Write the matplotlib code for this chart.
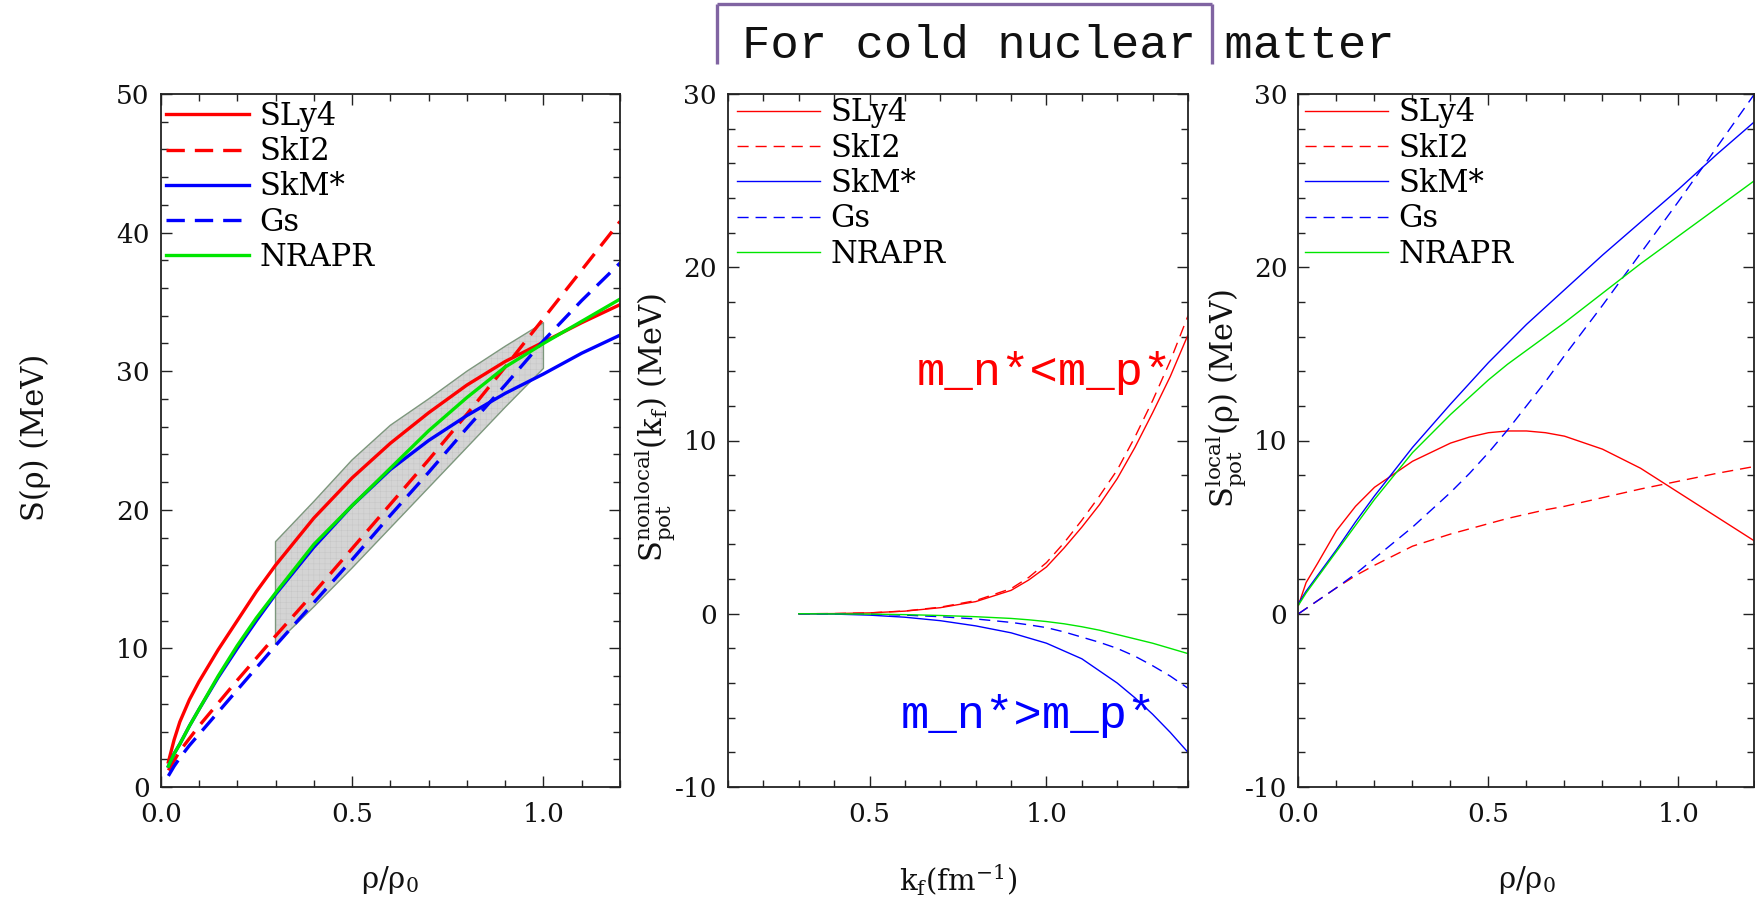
import matplotlib
matplotlib.use("Agg")
import matplotlib.pyplot as plt
from matplotlib.lines import Line2D
from matplotlib.ticker import MultipleLocator, FormatStrFormatter

plt.rcParams['font.family'] = ['DejaVu Serif']
plt.rcParams['mathtext.fontset'] = 'dejavuserif'
plt.rcParams['axes.unicode_minus'] = False
plt.rcParams['hatch.linewidth'] = 0.3

names = ['SLy4', 'SkI2', 'SkM*', 'Gs', 'NRAPR']
colors = ['#ff0000', '#ff0000', '#0000ff', '#0000ff', '#00e600']
dashed = [False, True, False, True, False]

# symmetry energy S(rho)
rho_tot = [0.02, 0.035, 0.05, 0.075, 0.1, 0.15, 0.2, 0.25, 0.3, 0.4, 0.5, 0.6, 0.7, 0.8, 0.9, 1.0, 1.1, 1.2]
s_tot = {
    'SLy4':  [1.8, 3.4, 4.7, 6.3, 7.6, 9.9, 12.0, 14.1, 16.0, 19.4, 22.3, 24.8, 27.0, 29.0, 30.7, 32.1, 33.5, 34.8],
    'SkI2':  [1.2, 1.9, 2.6, 3.5, 4.4, 6.05, 7.7, 9.3, 10.9, 14.0, 17.2, 20.4, 23.6, 26.9, 30.3, 33.8, 37.3, 40.8],
    'SkM*':  [1.5, 2.4, 3.1, 4.4, 5.6, 7.9, 10.0, 12.0, 13.9, 17.3, 20.3, 22.9, 25.0, 26.8, 28.4, 29.8, 31.3, 32.6],
    'Gs':    [0.8, 1.5, 2.1, 3.0, 3.8, 5.4, 7.0, 8.6, 10.2, 13.3, 16.4, 19.6, 22.7, 25.9, 29.0, 32.2, 35.1, 37.8],
    'NRAPR': [1.5, 2.4, 3.1, 4.4, 5.6, 8.0, 10.2, 12.2, 14.0, 17.5, 20.3, 23.0, 25.7, 28.1, 30.3, 32.0, 33.6, 35.2],
}
band_rho = [0.3, 0.4, 0.5, 0.6, 0.7, 0.8, 0.9, 1.0]
band_hi = [17.7, 20.6, 23.6, 26.1, 28.0, 30.0, 31.8, 33.5]
band_lo = [10.3, 13.0, 15.8, 18.7, 21.6, 24.5, 27.4, 30.2]

# nonlocal potential part vs k_f
kf = [0.3, 0.4, 0.5, 0.6, 0.7, 0.8, 0.9, 0.95, 1.0, 1.05, 1.1, 1.15, 1.2, 1.25, 1.3, 1.35, 1.4]
s_nonlocal = {
    'SLy4':  [0, 0.01, 0.05, 0.15, 0.35, 0.7, 1.35, 1.95, 2.7, 3.8, 5.0, 6.3, 7.8, 9.6, 11.6, 13.7, 16.1],
    'SkI2':  [0, 0.01, 0.05, 0.16, 0.38, 0.76, 1.45, 2.1, 2.95, 4.1, 5.4, 6.8, 8.3, 10.2, 12.3, 14.6, 17.2],
    'SkM*':  [0, -0.02, -0.08, -0.2, -0.4, -0.7, -1.1, -1.4, -1.7, -2.15, -2.6, -3.3, -4.0, -4.85, -5.8, -6.85, -8.0],
    'Gs':    [0, -0.01, -0.03, -0.08, -0.17, -0.3, -0.5, -0.64, -0.8, -1.05, -1.35, -1.65, -2.0, -2.45, -3.0, -3.6, -4.3],
    'NRAPR': [0, -0.01, -0.02, -0.05, -0.1, -0.17, -0.27, -0.35, -0.45, -0.58, -0.75, -0.95, -1.2, -1.45, -1.7, -2.0, -2.3],
}

# local potential part vs rho
rho_loc = [0.0, 0.02, 0.05, 0.1, 0.15, 0.2, 0.3, 0.4, 0.45, 0.5, 0.55, 0.6, 0.65, 0.7, 0.8, 0.9, 1.0, 1.1, 1.2]
s_local = {
    'SLy4':  [0.5, 1.8, 2.9, 4.8, 6.2, 7.3, 8.8, 9.85, 10.2, 10.45, 10.55, 10.55, 10.45, 10.25, 9.5, 8.4, 7.0, 5.6, 4.2],
    'SkI2':  [0.0, 0.3, 0.75, 1.5, 2.2, 2.8, 3.9, 4.6, 4.9, 5.2, 5.5, 5.75, 6.0, 6.2, 6.7, 7.2, 7.65, 8.1, 8.5],
    'SkM*':  [0.6, 1.3, 2.2, 3.7, 5.3, 6.8, 9.6, 12.1, 13.3, 14.5, 15.6, 16.7, 17.7, 18.7, 20.7, 22.6, 24.5, 26.5, 28.4],
    'Gs':    [0.0, 0.3, 0.75, 1.5, 2.3, 3.2, 5.0, 7.0, 8.1, 9.3, 10.6, 12.0, 13.4, 14.9, 17.8, 20.8, 23.8, 26.9, 30.0],
    'NRAPR': [0.5, 1.2, 2.1, 3.6, 5.1, 6.6, 9.3, 11.5, 12.5, 13.5, 14.4, 15.2, 16.0, 16.8, 18.5, 20.2, 21.8, 23.4, 25.0],
}

W, H = 1756, 899
fig = plt.figure(figsize=(W / 100, H / 100), dpi=100)


def px_axes(x0, x1, y0, y1):
    return fig.add_axes([x0 / W, 1 - y1 / H, (x1 - x0) / W, (y1 - y0) / H])


ax1 = px_axes(160.7, 620, 94, 787)
ax2 = px_axes(728, 1188, 94, 787)
ax3 = px_axes(1298.5, 1754.5, 94, 787)


def style(ax, xlim, ylim, xmajor, ymajor=10, yminor=2):
    ax.set_xlim(*xlim)
    ax.set_ylim(*ylim)
    ax.xaxis.set_major_locator(MultipleLocator(xmajor))
    ax.xaxis.set_minor_locator(MultipleLocator(0.1))
    ax.yaxis.set_major_locator(MultipleLocator(ymajor))
    ax.yaxis.set_minor_locator(MultipleLocator(yminor))
    ax.xaxis.set_major_formatter(FormatStrFormatter('%.1f'))
    ax.yaxis.set_major_formatter(FormatStrFormatter('%d'))
    ax.tick_params(which='both', direction='in', top=True, right=True, width=1.0, color='#222222')
    ax.tick_params(which='major', length=8, labelsize=19, labelcolor='#111111')
    ax.tick_params(axis='x', which='major', pad=11)
    ax.tick_params(axis='y', which='major', pad=8)
    ax.tick_params(which='minor', length=5)
    for sp in ax.spines.values():
        sp.set_linewidth(1.3)
        sp.set_color('#222222')


def draw(ax, x, series, lw, dash):
    for n, c, d in zip(names, colors, dashed):
        ln, = ax.plot(x, series[n], color=c, lw=lw, label=n)
        if d:
            ln.set_dashes(dash)


def legend(ax, xoff, ytop):
    ax.legend(loc='upper left', bbox_to_anchor=(xoff, ytop), frameon=False, fontsize=22,
              handlelength=2.7, handletextpad=0.35, labelspacing=0.14,
              borderpad=0, borderaxespad=0)


# left: total symmetry energy with constraint band
ax1.fill_between(band_rho, band_lo, band_hi, facecolor='#d4d4d4', edgecolor='#c4c4c4',
                 hatch='+++', lw=0, zorder=1)
ax1.fill_between(band_rho, band_lo, band_hi, facecolor='none', edgecolor='#7d977d',
                 lw=1.0, zorder=1)
draw(ax1, rho_tot, s_tot, 2.4, (5.5, 3))
style(ax1, (0, 1.2), (0, 50), 0.5)
legend(ax1, 0.012, 0.99)

# middle: nonlocal part
draw(ax2, kf, s_nonlocal, 1.0, (8, 5))
style(ax2, (0.1, 1.4), (-10, 30), 0.5)
legend(ax2, 0.02, 0.995)

# right: local part
draw(ax3, rho_loc, s_local, 1.0, (8, 5))
style(ax3, (0, 1.2), (-10, 30), 0.5)
legend(ax3, 0.015, 0.995)

# axis titles
fig.text(35 / W, 1 - 437 / H, 'S(ρ) (MeV)', rotation=90, ha='center', va='center',
         fontsize=22, color='#111111')
fig.text(655 / W, 1 - 427 / H,
         r'$\mathrm{S}_{\mathrm{pot}}^{\mathrm{nonlocal}}(\mathrm{k}_{\mathrm{f}})$ (MeV)',
         rotation=90, ha='center', va='center', fontsize=22, color='#111111')
fig.text(1226 / W, 1 - 398 / H,
         r'$\mathrm{S}_{\mathrm{pot}}^{\mathrm{local}}$(ρ) (MeV)',
         rotation=90, ha='center', va='center', fontsize=22, color='#111111')
for xc, lab in [(390, r'ρ/ρ$_\mathrm{0}$'), (958, r'k$_\mathrm{f}$(fm$^{\mathrm{-1}}$)'),
                (1527, r'ρ/ρ$_\mathrm{0}$')]:
    fig.text(xc / W, 1 - 880 / H, lab, ha='center', va='center', fontsize=21, color='#111111')

# heading with open purple frame
purple = '#8064a2'
for xs, ys in [([717, 717], [64, 4]), ([717, 1212], [4, 4]), ([1212, 1212], [4, 64])]:
    fig.add_artist(Line2D([x / W for x in xs], [1 - y / H for y in ys], color=purple,
                          lw=2.4, transform=fig.transFigure, solid_capstyle='butt'))
fig.text(742 / W, 1 - 58 / H, 'For cold nuclear matter', family='Liberation Mono',
         fontsize=34, ha='left', va='baseline', color='#111111')

fig.text(917 / W, 1 - 385 / H, 'm_n*<m_p*', family='Liberation Mono', fontsize=34,
         ha='left', va='baseline', color='#ff0000')
fig.text(901 / W, 1 - 728 / H, 'm_n*>m_p*', family='Liberation Mono', fontsize=34,
         ha='left', va='baseline', color='#0000ff')

fig.savefig('out.png', dpi=100)
